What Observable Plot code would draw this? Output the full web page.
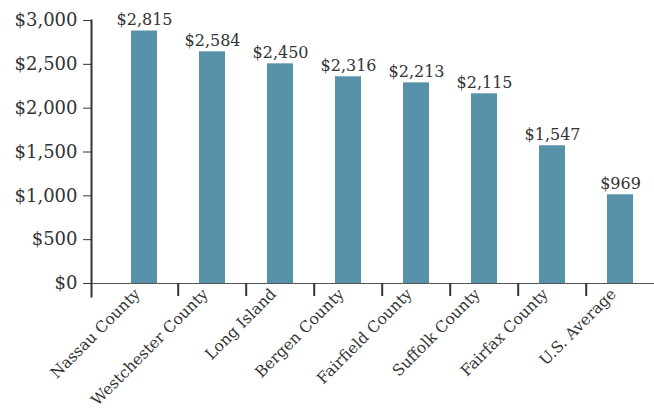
<!DOCTYPE html>
<html>
<head>
<meta charset="utf-8">
<script src="https://cdn.jsdelivr.net/npm/d3@7"></script>
<script src="https://cdn.jsdelivr.net/npm/@observablehq/plot@0.6"></script>
<style>
  html, body { margin: 0; padding: 0; background: #fff; }
</style>
</head>
<body>
<div id="chart"></div>
<script>
const categories = ["Nassau County", "Westchester County", "Long Island", "Bergen County", "Fairfield County", "Suffolk County", "Fairfax County", "U.S. Average"];
const barValues = [2880, 2643, 2506, 2358, 2289, 2164, 1571, 1012];
const labelValues = [2815, 2584, 2450, 2316, 2213, 2115, 1547, 969];
const yTicks = [0, 500, 1000, 1500, 2000, 2500, 3000];

const data = categories.map((c, i) => ({name: c, bar: barValues[i], label: "$" + d3.format(",")(labelValues[i])}));
const fmt = d => "$" + d3.format(",")(d);
const color = "#5792aa";
const ink = "#333333";

const chart = Plot.plot({
  width: 654,
  height: 409,
  marginLeft: 91,
  marginRight: 0,
  marginTop: 20,
  marginBottom: 113,
  style: {fontFamily: "DejaVu Serif", color: ink, background: "#fff"},
  x: {type: "band", domain: categories, range: [107.5, 656], paddingInner: 0.62, paddingOuter: 0.31},
  y: {domain: [0, 3000], range: [283, 20]},
  marks: [
    Plot.barY(data, {x: "name", y: "bar", fill: color}),
    Plot.ruleY([0], {stroke: "#555", strokeWidth: 1.2}),
    Plot.frame({anchor: "left", stroke: ink, strokeWidth: 2}),
    Plot.ruleX(categories.slice(1), {x: d => d, dx: -34.3, insetTop: 263, stroke: ink, strokeWidth: 2}),
    Plot.axisY({ticks: yTicks, tickFormat: fmt, tickSize: 8, tickPadding: 6, fontSize: 18, label: null, stroke: ink}),
    Plot.axisX({tickSize: 0, tickRotate: -45, tickPadding: 2, dx: -7, dy: -7, fontSize: 15.5, label: null}),
    Plot.text(data, {x: "name", y: "bar", text: "label", dy: -6, lineAnchor: "bottom", fontSize: 16, fill: ink})
  ]
});
document.getElementById("chart").appendChild(chart);
</script>
</body>
</html>
